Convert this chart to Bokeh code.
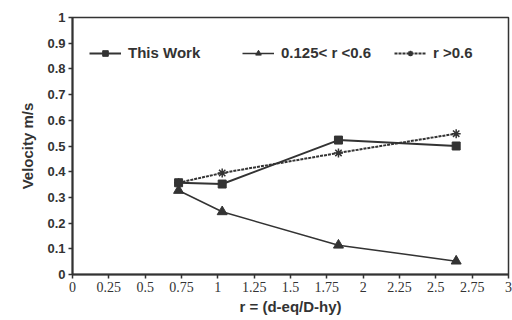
from bokeh.plotting import figure
from bokeh.models import Legend, LegendItem, FixedTicker, Range1d
from bokeh.embed import file_html
from bokeh.resources import INLINE

# Data
x_vals = [0.73, 1.03, 1.83, 2.64]
this_work = [0.357, 0.352, 0.523, 0.500]
mid_r = [0.327, 0.244, 0.114, 0.052]
high_r = [0.357, 0.395, 0.473, 0.548]

x_ticks = [0, 0.25, 0.5, 0.75, 1, 1.25, 1.5, 1.75, 2, 2.25, 2.5, 2.75, 3]
y_ticks = [0, 0.1, 0.2, 0.3, 0.4, 0.5, 0.6, 0.7, 0.8, 0.9, 1]

INK = "#333333"

p = figure(width=512, height=320, output_backend="svg", toolbar_location=None,
           x_range=Range1d(0, 3), y_range=Range1d(0, 1),
           min_border_left=72, min_border_right=4, min_border_top=17,
           min_border_bottom=46)
p.grid.visible = False
p.background_fill_color = "white"
p.border_fill_color = "white"
p.outline_line_color = INK
p.outline_line_width = 1.5

p.xaxis.ticker = FixedTicker(ticks=x_ticks)
p.yaxis.ticker = FixedTicker(ticks=y_ticks)
p.xaxis.major_label_overrides = {0: "0", 1: "1", 2: "2", 3: "3"}
p.yaxis.major_label_overrides = {0: "0", 1: "1"}
for ax in (p.xaxis, p.yaxis):
    ax.axis_line_color = INK
    ax.axis_line_width = 2
    ax.major_tick_line_color = INK
    ax.major_tick_line_width = 1.5
    ax.major_tick_out = 4
    ax.major_tick_in = 0
    ax.minor_tick_line_color = None
    ax.major_label_text_color = INK
    ax.axis_label_text_color = INK
    ax.axis_label_text_font_style = "bold"
    ax.axis_label_text_font = "Liberation Sans"
    ax.axis_label_text_font_size = "15px"

p.xaxis.major_label_text_font = "Liberation Serif"
p.xaxis.major_label_text_font_size = "14px"
p.xaxis.major_label_standoff = 3
p.yaxis.major_label_text_font = "Liberation Sans"
p.yaxis.major_label_text_font_style = "bold"
p.yaxis.major_label_text_font_size = "13px"
p.yaxis.major_label_standoff = 3
p.xaxis.axis_label = "r = (d-eq/D-hy)"
p.xaxis.axis_label_standoff = 3
p.yaxis.axis_label = "Velocity m/s"
p.yaxis.axis_label_standoff = 8

l1 = p.line(x_vals, this_work, line_color=INK, line_width=2)
s1 = p.scatter(x_vals, this_work, marker="square", size=8, fill_color=INK, line_color=INK)
l2 = p.line(x_vals, mid_r, line_color=INK, line_width=1.5)
s2 = p.scatter(x_vals, mid_r, marker="triangle", size=10, fill_color=INK, line_color=INK)
l3 = p.line(x_vals, high_r, line_color=INK, line_width=2, line_dash="3 1")
s3 = p.scatter(x_vals, high_r, marker="asterisk", size=9, line_color=INK, line_width=1.5)

items = [("This Work", [l1, s1], (17, 213)),
         ("0.125< r <0.6", [l2, s2], (170, 213)),
         ("r >0.6", [l3, s3], (322, 213))]
for label, rends, loc in items:
    lg = Legend(items=[LegendItem(label=label, renderers=rends)], location=loc,
                orientation="horizontal", border_line_color=None,
                background_fill_alpha=0, padding=0, margin=0,
                glyph_width=32, glyph_height=14, label_height=14,
                label_standoff=7, label_text_font="Liberation Sans",
                label_text_font_style="bold", label_text_font_size="15px",
                label_text_color=INK)
    p.add_layout(lg, "center")

open("out.html", "w").write(file_html(p, INLINE))
